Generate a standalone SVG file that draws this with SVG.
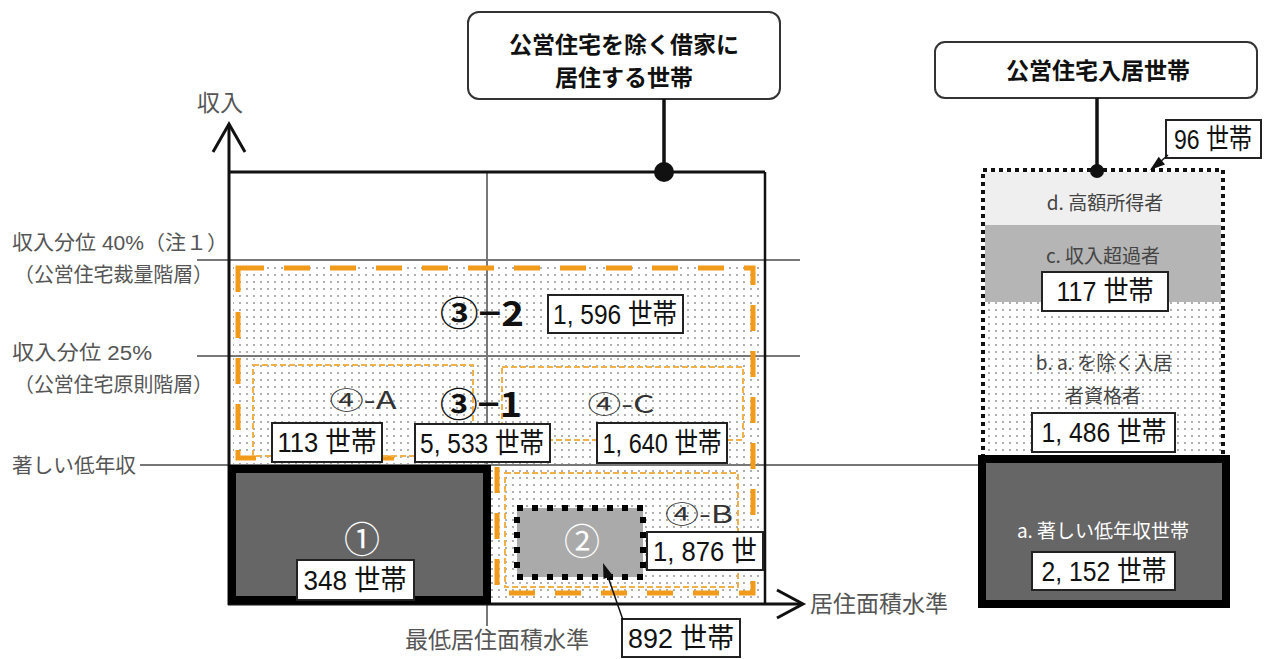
<svg xmlns="http://www.w3.org/2000/svg" width="1268" height="659" viewBox="0 0 1268 659">
<style>
.jp{font-family:"Liberation Sans","Noto Sans CJK JP",sans-serif;}
.ax{font-family:"Liberation Sans","Noto Sans CJK JP",sans-serif;font-size:20px;fill:#555;}
.ttl{font-family:"Noto Sans CJK JP","Liberation Sans",sans-serif;font-size:23px;font-weight:bold;fill:#111;text-anchor:middle;}
.num{font-family:"Liberation Sans Narrow","Liberation Sans","Noto Sans CJK JP",sans-serif;font-size:28px;fill:#111;text-anchor:middle;}
.nbox{fill:#fff;stroke:#222;stroke-width:2;}
.big{font-family:"Noto Sans CJK JP","Liberation Sans",sans-serif;font-size:34px;font-weight:bold;fill:#111;text-anchor:middle;}
.sub{font-family:"Noto Sans CJK JP","Liberation Sans",sans-serif;font-size:24px;fill:#333;text-anchor:middle;}
.circ{font-family:"Noto Sans CJK JP","Liberation Sans",sans-serif;font-size:36px;fill:#fff;text-anchor:middle;}
.cat{font-family:"Noto Sans CJK JP","Liberation Sans",sans-serif;font-size:19px;fill:#444;text-anchor:middle;}
.blk{stroke:#111;fill:none;}
.gry{stroke:#777;stroke-width:2;fill:none;}
.odash{fill:none;stroke:#f29b1b;stroke-width:5;stroke-dasharray:26 20;}
.othin{fill:none;stroke:#f0b04a;stroke-width:2;stroke-dasharray:6 3;}
.head{fill:#111;stroke:none;}
</style>
<defs>
<pattern id="dots" width="7" height="7" patternUnits="userSpaceOnUse">
<rect width="7" height="7" fill="#fff"/>
<circle cx="2" cy="2" r="0.9" fill="#8a8a8a"/>
</pattern>
</defs>
<rect width="1268" height="659" fill="#fff"/>

<!-- background fills -->
<g id="fills">
<path d="M233,263 H762 V601 H491 V465 H233 Z" fill="url(#dots)"/>
<rect x="985" y="172" width="236" height="53" fill="#efefef"/>
<rect x="985" y="225" width="236" height="77" fill="#b5b5b5"/>
<rect x="985" y="302" width="236" height="158" fill="url(#dots)"/>
</g>

<!-- axes and reference lines -->
<g id="axes">
<line class="gry" x1="197" y1="260" x2="800" y2="260"/>
<line class="gry" x1="197" y1="356" x2="800" y2="356"/>
<line class="gry" x1="140" y1="465" x2="985" y2="465"/>
<line class="gry" x1="487" y1="172" x2="487" y2="626"/>
<line class="blk" stroke-width="3" x1="229" y1="124" x2="229" y2="605"/>
<polyline class="blk" stroke-width="3" points="213,152 229,124 245,152"/>
<line class="blk" stroke-width="3" x1="228" y1="172" x2="765" y2="172"/>
<line class="blk" stroke-width="2.5" x1="765" y1="172" x2="765" y2="604"/>
<line class="blk" stroke-width="3" x1="228" y1="604" x2="802" y2="604"/>
<polyline class="blk" stroke-width="3" points="777,590 803,604 777,618"/>
</g>

<!-- axis labels -->
<g id="axis-labels">
<text class="jp" x="197" y="111" font-size="23" fill="#555">収入</text>
<text class="ax" x="12" y="250" textLength="216" lengthAdjust="spacingAndGlyphs">収入分位 40%（注１）</text>
<text class="ax" x="14" y="282" textLength="199" lengthAdjust="spacingAndGlyphs">（公営住宅裁量階層）</text>
<text class="ax" x="12" y="360" textLength="140" lengthAdjust="spacingAndGlyphs">収入分位 25%</text>
<text class="ax" x="14" y="392" textLength="199" lengthAdjust="spacingAndGlyphs">（公営住宅原則階層）</text>
<text class="ax" x="12" y="473" textLength="124" lengthAdjust="spacingAndGlyphs">著しい低年収</text>
<text class="jp" x="497" y="648" font-size="23" fill="#555" text-anchor="middle">最低居住面積水準</text>
<text class="jp" x="810" y="612" font-size="23" fill="#555">居住面積水準</text>
</g>

<!-- title nodes -->
<g id="node-rental">
<rect x="468" y="12" width="312" height="87" rx="11" fill="#fff" stroke="#333" stroke-width="2"/>
<text class="ttl" x="624" y="53">公営住宅を除く借家に</text>
<text class="ttl" x="624" y="86">居住する世帯</text>
</g>
<g id="node-public">
<rect x="935" y="42" width="322" height="56" rx="10" fill="#fff" stroke="#333" stroke-width="2"/>
<text class="ttl" x="1098" y="79">公営住宅入居世帯</text>
</g>

<!-- region 3-2 (orange thick dashed) -->
<g id="node-3-2">
<path class="odash" d="M238,268 H753 V593 H497 V458 H238 Z"/>
<text class="big" x="482" y="326" textLength="84" lengthAdjust="spacingAndGlyphs">③−2</text>
<rect class="nbox" x="548" y="295" width="135" height="38"/>
<text class="num" x="615" y="324" textLength="124" lengthAdjust="spacingAndGlyphs">1, 596 世帯</text>
</g>

<!-- region 4-A -->
<g id="node-4A">
<rect class="othin" x="253" y="365" width="220" height="91"/>
<text class="sub" x="363" y="409" textLength="67" lengthAdjust="spacingAndGlyphs">④-A</text>
<rect class="nbox" x="272" y="423" width="110" height="39"/>
<text class="num" x="327" y="452" textLength="99" lengthAdjust="spacingAndGlyphs">113 世帯</text>
</g>

<!-- region 4-C -->
<g id="node-4C">
<rect class="othin" x="502" y="367" width="241" height="73"/>
<text class="sub" x="621" y="413" textLength="67" lengthAdjust="spacingAndGlyphs">④-C</text>
<rect class="nbox" x="597" y="423" width="130" height="40"/>
<text class="num" x="662" y="453" textLength="119" lengthAdjust="spacingAndGlyphs">1, 640 世帯</text>
</g>

<!-- region 3-1 -->
<g id="node-3-1">
<text class="big" x="481" y="417" textLength="82" lengthAdjust="spacingAndGlyphs">③−1</text>
<rect class="nbox" x="415" y="424" width="135" height="38"/>
<text class="num" x="482" y="453" textLength="124" lengthAdjust="spacingAndGlyphs">5, 533 世帯</text>
</g>

<!-- region 4-B -->
<g id="node-4B">
<rect class="othin" x="505" y="473" width="233" height="114"/>
<text class="sub" x="699" y="523" textLength="68" lengthAdjust="spacingAndGlyphs">④-B</text>
<rect class="nbox" x="647" y="532" width="116" height="38"/>
<text class="num" x="705" y="561" textLength="104" lengthAdjust="spacingAndGlyphs">1, 876 世</text>
</g>

<!-- region 1 -->
<g id="node-1">
<rect x="232" y="469" width="255" height="131" fill="#666" stroke="#000" stroke-width="8"/>
<text class="circ" x="362" y="553">①</text>
<rect class="nbox" x="297" y="560" width="117" height="40"/>
<text class="num" x="355" y="590" textLength="103" lengthAdjust="spacingAndGlyphs">348 世帯</text>
</g>

<!-- region 2 -->
<g id="node-2">
<rect x="517" y="508" width="126" height="69" fill="#aaa" stroke="#000" stroke-width="6" stroke-dasharray="6 9"/>
<text class="circ" x="582" y="555">②</text>
</g>
<g id="label-892">
<rect class="nbox" x="622" y="619" width="118" height="38"/>
<text class="num" x="681" y="648" textLength="106" lengthAdjust="spacingAndGlyphs">892 世帯</text>
</g>

<!-- right column -->
<g id="node-public-stack">
<rect x="983" y="170" width="240" height="292" fill="none" stroke="#111" stroke-width="4" stroke-dasharray="4 4"/>
</g>
<g id="node-d">
<text class="cat" x="1105" y="210">d. 高額所得者</text>
</g>
<g id="label-96">
<rect class="nbox" x="1166" y="120" width="95" height="38"/>
<text class="num" x="1213" y="149" textLength="78" lengthAdjust="spacingAndGlyphs">96 世帯</text>
</g>
<g id="node-c">
<text class="cat" x="1103" y="263">c. 収入超過者</text>
<rect class="nbox" x="1042" y="272" width="126" height="39"/>
<text class="num" x="1105" y="301" textLength="97" lengthAdjust="spacingAndGlyphs">117 世帯</text>
</g>
<g id="node-b">
<text class="cat" x="1104" y="370">b. a. を除く入居</text>
<text class="cat" x="1103" y="403">者資格者</text>
<rect class="nbox" x="1032" y="413" width="143" height="39"/>
<text class="num" x="1104" y="442" textLength="125" lengthAdjust="spacingAndGlyphs">1, 486 世帯</text>
</g>
<g id="node-a">
<rect x="982" y="459" width="244" height="145" fill="#666" stroke="#000" stroke-width="8"/>
<text class="cat" x="1103" y="538" style="fill:#fff">a. 著しい低年収世帯</text>
<rect class="nbox" x="1032" y="552" width="143" height="38"/>
<text class="num" x="1104" y="581" textLength="125" lengthAdjust="spacingAndGlyphs">2, 152 世帯</text>
</g>

<!-- connectors -->
<g id="connectors">
<line class="blk" stroke-width="3.5" x1="664" y1="99" x2="664" y2="172"/>
<circle cx="664" cy="172" r="10" fill="#111"/>
<line class="blk" stroke-width="3.5" x1="1097" y1="98" x2="1097" y2="170"/>
<circle cx="1097" cy="171" r="7" fill="#111"/>
<line class="blk" stroke-width="1.5" x1="1168" y1="155" x2="1160" y2="162"/>
<polygon class="head" points="1150,170 1165,164.4 1158.7,156.8"/>
<line class="blk" stroke-width="1.5" x1="623" y1="620" x2="607" y2="574"/>
<polygon class="head" points="603,563 612.9,575.7 603.5,578.9"/>
</g>
</svg>
